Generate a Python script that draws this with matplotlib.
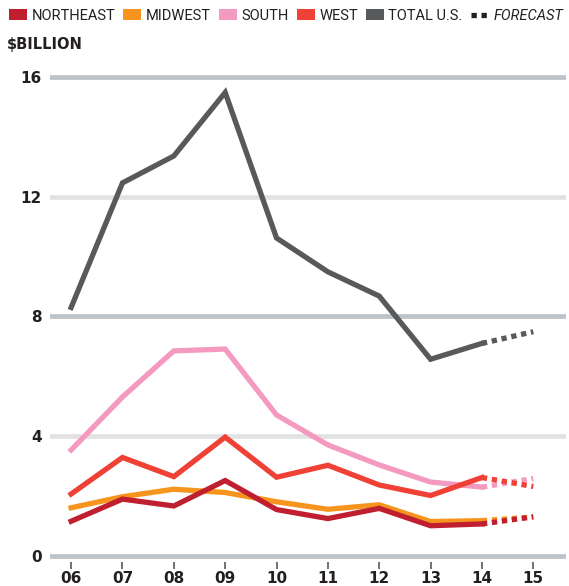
import matplotlib.pyplot as plt
from matplotlib.patches import Patch
from matplotlib.lines import Line2D

years = ["06", "07", "08", "09", "10", "11", "12", "13", "14", "15"]

# actuals 06-14, forecast 14-15
northeast = [1.16, 1.90, 1.67, 2.52, 1.55, 1.25, 1.59, 1.01, 1.07]
midwest = [1.61, 1.98, 2.23, 2.12, 1.81, 1.56, 1.71, 1.15, 1.18]
south = [3.54, 5.31, 6.85, 6.91, 4.71, 3.71, 3.04, 2.47, 2.30]
west = [2.07, 3.29, 2.65, 3.97, 2.63, 3.03, 2.37, 2.02, 2.62]
total = [8.30, 12.46, 13.36, 15.48, 10.62, 9.49, 8.68, 6.57, 7.10]

northeast_fc = [1.07, 1.31]
midwest_fc = [1.18, 1.30]
south_fc = [2.30, 2.59]
west_fc = [2.62, 2.32]
total_fc = [7.10, 7.49]

names = ["NORTHEAST", "MIDWEST", "SOUTH", "WEST", "TOTAL U.S."]
colors = ["#c01f2f", "#f7941d", "#f49ac1", "#ef4135", "#58595b"]

fig = plt.figure(figsize=(5.69, 5.86), dpi=100)
ax = fig.add_axes([0.088, 0.041, 0.907, 0.838])

# gridlines: 0/8/16 darker, 4/12 lighter
for v in [0, 4, 8, 12, 16]:
    c = "#bcc3c9" if v % 8 == 0 else "#e2e2e2"
    ax.axhline(v, color=c, lw=3.4, zorder=0)

x = list(range(len(years)))
xa = x[:9]
xf = x[8:10]
series = [total, south, west, midwest, northeast]
fcs = [total_fc, south_fc, west_fc, midwest_fc, northeast_fc]
cols = [colors[4], colors[2], colors[3], colors[1], colors[0]]
for s, f, c in zip(series, fcs, cols):
    ax.plot(xa, s, color=c, lw=3.8, solid_joinstyle="miter", zorder=3)
    ax.plot(xf, f, color=c, lw=3.8, dashes=(1, 0.9), dash_capstyle="butt", zorder=3)

ax.set_xlim(-0.41, 9.64)
ax.set_ylim(-0.2, 16.2)
for s in ax.spines.values():
    s.set_visible(False)
ax.set_yticks([0, 4, 8, 12, 16])
ax.set_yticklabels(["0", "4", "8", "12", "16"], fontweight="bold", fontsize=11, color="#231f20")
ax.tick_params(axis="y", length=0, pad=6)
ax.set_xticks(x)
ax.set_xticklabels(years, fontweight="bold", fontsize=11, color="#231f20")
ax.tick_params(axis="x", length=5, width=1.2, color="#58595b", pad=1.5)

fig.text(0.012, 0.916, r"\$BILLION", fontsize=10.5, fontweight="bold", color="#231f20")

handles = [Patch(facecolor=c, edgecolor="none") for c in colors]
handles.append(Line2D([0], [0], color="#231f20", lw=3.8, dashes=(1, 0.9)))
leg = fig.legend(handles, names + ["FORECAST"], loc="upper left", bbox_to_anchor=(0.0, 1.0),
                 ncol=6, frameon=False, prop={"family": "Roboto", "size": 10.5},
                 handlelength=1.25, handleheight=0.75,
                 handletextpad=0.3, columnspacing=0.55, borderaxespad=0.2)
for t in leg.get_texts():
    t.set_color("#231f20")
leg.get_texts()[5].set_style("italic")

fig.savefig("out.png", dpi=100)
